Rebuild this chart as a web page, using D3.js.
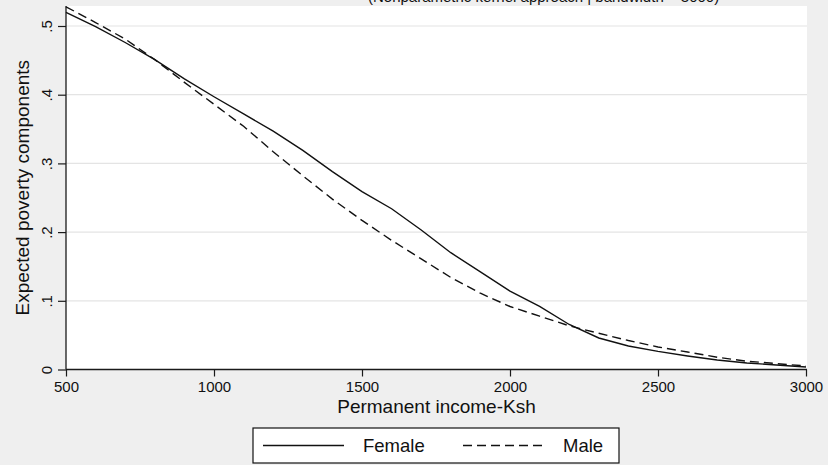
<!DOCTYPE html>
<html>
<head>
<meta charset="utf-8">
<script src="https://cdn.jsdelivr.net/npm/d3@7"></script>
<style>
  html, body { margin: 0; padding: 0; background: #efefef; }
  svg { display: block; font-family: "Liberation Sans", Arial, Helvetica, sans-serif; }
</style>
</head>
<body>
<svg id="chart" width="828" height="465"></svg>
<script>
// Permanent income grid (Ksh)
const income = [500, 600, 700, 800, 900, 1000, 1100, 1200, 1300, 1400, 1500, 1600, 1700,
                1800, 1900, 2000, 2100, 2200, 2300, 2400, 2500, 2600, 2700, 2800, 2900, 3000];
// Expected poverty components by sex of household head
const female = [0.520, 0.499, 0.476, 0.451, 0.423, 0.397, 0.372, 0.347, 0.319, 0.288, 0.259,
                0.234, 0.203, 0.170, 0.142, 0.114, 0.092, 0.0655, 0.0459, 0.0342, 0.0264,
                0.0197, 0.0138, 0.0095, 0.0066, 0.0036];
const male   = [0.528, 0.505, 0.481, 0.451, 0.418, 0.386, 0.354, 0.317, 0.282, 0.248, 0.217,
                0.188, 0.161, 0.134, 0.111, 0.0917, 0.0776, 0.0636, 0.0527, 0.0422, 0.0328,
                0.0255, 0.0178, 0.0121, 0.0086, 0.0051];
const xTicks = [500, 1000, 1500, 2000, 2500, 3000];
const yTicks = [0, 0.1, 0.2, 0.3, 0.4, 0.5];
const yTickLabels = ["0", ".1", ".2", ".3", ".4", ".5"];
const seriesNames = ["Female", "Male"];

const svg = d3.select("#chart");
const plot = { left: 66, right: 807, top: 6, bottom: 369.5 };

const x = d3.scaleLinear().domain([500, 3000]).range([plot.left, 806]);
const y = d3.scaleLinear().domain([0, 0.5]).range([plot.bottom, 26]);

// subtitle, running off the top edge of the graph
svg.append("text")
  .attr("x", 368).attr("y", 1.5)
  .attr("font-size", 15).attr("fill", "#111")
  .text("(Nonparametric kernel approach | bandwidth = 3000)");

// plot region
svg.append("rect")
  .attr("x", plot.left).attr("y", plot.top)
  .attr("width", plot.right - plot.left).attr("height", plot.bottom - plot.top)
  .attr("fill", "#ffffff");

// horizontal gridlines
svg.append("g").selectAll("line")
  .data(yTicks.filter(d => d > 0))
  .join("line")
  .attr("x1", plot.left).attr("x2", plot.right)
  .attr("y1", d => y(d)).attr("y2", d => y(d))
  .attr("stroke", "#e4e4e4").attr("stroke-width", 1.2);

// x axis
const xAxis = svg.append("g")
  .attr("transform", `translate(0,${plot.bottom})`)
  .call(d3.axisBottom(x).tickValues(xTicks).tickSize(7).tickPadding(5).tickFormat(d3.format("d")));
xAxis.select(".domain").attr("stroke", "#1a1a1a").attr("stroke-width", 1.3)
  .attr("d", `M${plot.left},0H${plot.right}`);
xAxis.selectAll(".tick line").attr("stroke", "#1a1a1a").attr("stroke-width", 1.2);
xAxis.selectAll(".tick text").attr("font-size", 15).attr("fill", "#111")
  .attr("font-family", "'Liberation Sans', Arial, sans-serif");

// y axis
const yAxis = svg.append("g")
  .attr("transform", `translate(${plot.left},0)`)
  .call(d3.axisLeft(y).tickValues(yTicks).tickSize(8).tickFormat((d, i) => yTickLabels[i]));
yAxis.select(".domain").attr("stroke", "#1a1a1a").attr("stroke-width", 1.3)
  .attr("d", `M0,${plot.top}V${plot.bottom}`);
yAxis.selectAll(".tick line").attr("stroke", "#1a1a1a").attr("stroke-width", 1.2);
yAxis.selectAll(".tick text")
  .attr("font-size", 15).attr("fill", "#111")
  .attr("font-family", "'Liberation Sans', Arial, sans-serif")
  .attr("x", null).attr("dy", null)
  .attr("text-anchor", "middle")
  .attr("transform", "translate(-14,0) rotate(-90)");

// axis titles
svg.append("text")
  .attr("x", (plot.left + plot.right) / 2).attr("y", 413)
  .attr("text-anchor", "middle").attr("font-size", 19).attr("fill", "#111")
  .text("Permanent income-Ksh");
svg.append("text")
  .attr("transform", `translate(29,${(plot.top + plot.bottom) / 2}) rotate(-90)`)
  .attr("text-anchor", "middle").attr("font-size", 19).attr("fill", "#111")
  .text("Expected poverty components");

// curves
const line = d3.line().x((d, i) => x(income[i])).y(d => y(d));
const dashes = [null, "9,5"];
[female, male].forEach((vals, k) => {
  svg.append("path")
    .datum(vals)
    .attr("d", line)
    .attr("fill", "none")
    .attr("stroke", "#111")
    .attr("stroke-width", 1.4)
    .attr("stroke-dasharray", dashes[k]);
});

// legend
const lg = svg.append("g").attr("transform", "translate(253,428)");
lg.append("rect").attr("width", 366).attr("height", 35)
  .attr("fill", "#ffffff").attr("stroke", "#111").attr("stroke-width", 1.2);
const sampleX = [10, 210];
seriesNames.forEach((name, k) => {
  lg.append("line")
    .attr("x1", sampleX[k]).attr("x2", sampleX[k] + 81)
    .attr("y1", 17.5).attr("y2", 17.5)
    .attr("stroke", "#111").attr("stroke-width", 1.4)
    .attr("stroke-dasharray", dashes[k]);
  lg.append("text")
    .attr("x", sampleX[k] + 100).attr("y", 24)
    .attr("font-size", 18.5).attr("fill", "#111")
    .text(name);
});
</script>
</body>
</html>
